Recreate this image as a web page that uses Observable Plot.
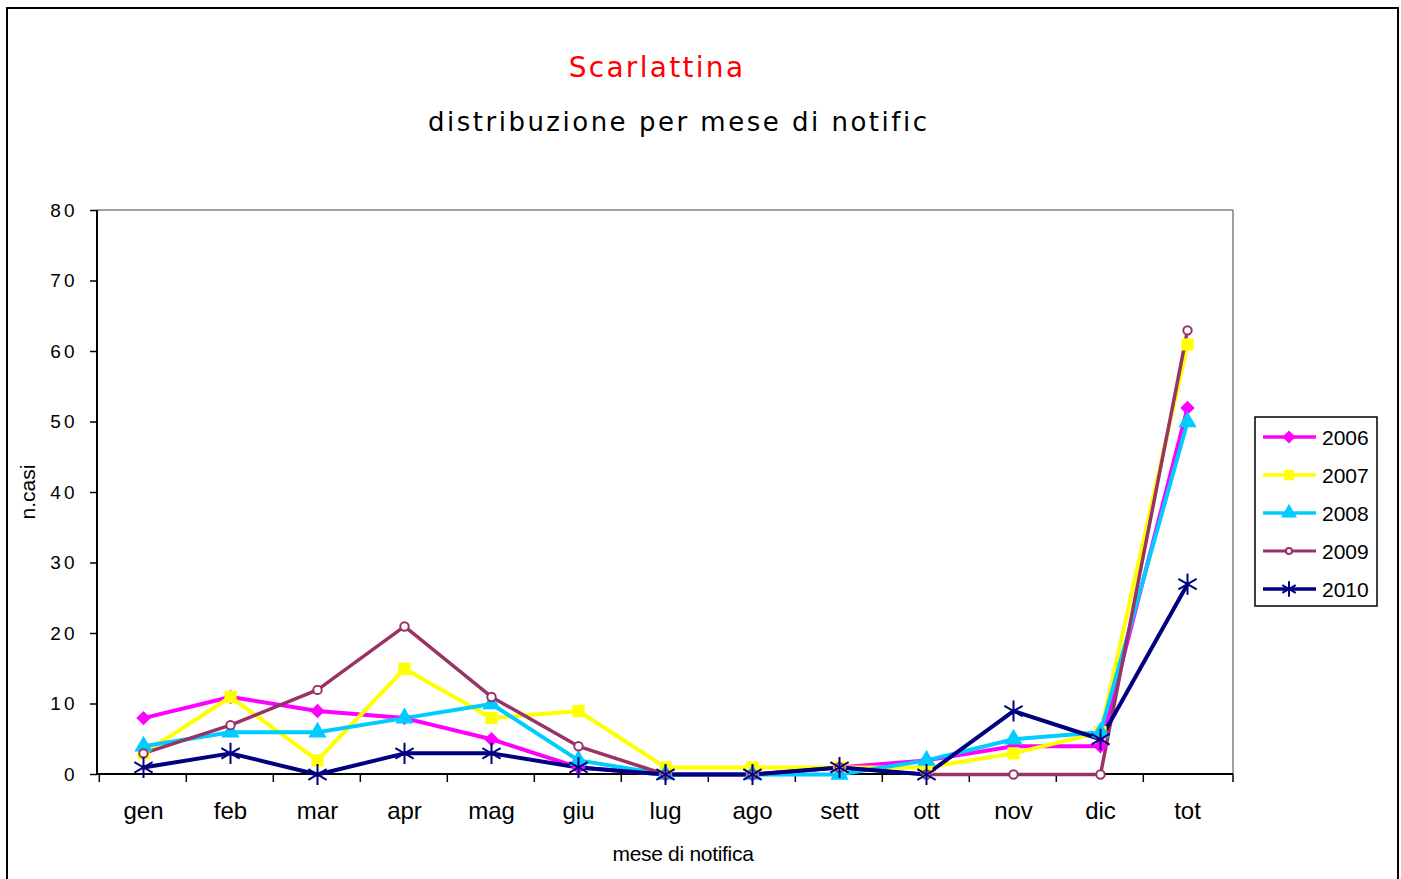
<!DOCTYPE html>
<html>
<head>
<meta charset="utf-8">
<script src="https://cdn.jsdelivr.net/npm/d3@7"></script>
<script src="https://cdn.jsdelivr.net/npm/@observablehq/plot@0.6"></script>
<style>
  html, body { margin: 0; padding: 0; background: #fff; }
  #chart svg { display: block; }
</style>
</head>
<body>
<div id="chart"></div>
<script>
const categories = ["gen","feb","mar","apr","mag","giu","lug","ago","sett","ott","nov","dic","tot"];
const years = ["2006","2007","2008","2009","2010"];
const v2006 = [8,11,9,8,5,1,0,0,1,2,4,4,52];
const v2007 = [3,11,2,15,8,9,1,1,1,1,3,6,61];
const v2008 = [4,6,6,8,10,2,0,0,0,2,5,6,50];
const v2009 = [3,7,12,21,11,4,0,0,1,0,0,0,63];
const v2010 = [1,3,0,3,3,1,0,0,1,0,9,5,27];
const yTicks = [0,10,20,30,40,50,60,70,80];
const titleText = "Scarlattina";
const subtitleText = "distribuzione per mese di notific";
const xLabel = "mese di notifica";
const yLabel = "n.casi";

const seriesValues = [v2006, v2007, v2008, v2009, v2010];
const colors = ["#FF00FF", "#FFFF00", "#00CCFF", "#993366", "#000080"];
const symbols = ["diamond2", "square", "triangle", "circle", "asterisk"];

const series = years.map((y, i) => ({year: y, values: seriesValues[i], color: colors[i], symbol: symbols[i]}));
const rows = series.flatMap(s => categories.map((c, j) => ({cat: c, v: s.values[j], year: s.year})));

function dotOpts(s) {
  const base = {x: "cat", y: "v", symbol: () => s.symbol};
  switch (s.symbol) {
    case "diamond2": return {...base, fill: s.color, stroke: "none", r: 6.5};
    case "square": return {...base, fill: s.color, stroke: "none", r: 6.9};
    case "triangle": return {...base, fill: s.color, stroke: "none", r: 6.8};
    case "circle": return {...base, fill: "white", stroke: s.color, strokeWidth: 2, r: 4.2};
    case "asterisk": return {...base, fill: "none", stroke: s.color, strokeWidth: 2, r: 10};
  }
}

const marks = [
  Plot.axisY({ticks: yTicks, tickSize: 7, tickPadding: 13, fontSize: 19, label: null, stroke: "black", strokeWidth: 1.5}),
  Plot.axisX({tickSize: 0, tickPadding: 27, fontSize: 24, label: null})
];
series.forEach(s => {
  const data = rows.filter(r => r.year === s.year);
  marks.push(Plot.line(data, {x: "cat", y: "v", stroke: s.color, strokeWidth: s.year === "2009" ? 3.5 : 4}));
});
series.forEach(s => {
  const data = rows.filter(r => r.year === s.year);
  marks.push(Plot.dot(data, dotOpts(s)));
});

const chart = Plot.plot({
  width: 1401,
  height: 879,
  marginLeft: 97,
  marginRight: 168,
  marginTop: 210,
  marginBottom: 105,
  style: {background: "white", fontFamily: "'Liberation Sans', Arial, sans-serif", color: "black"},
  x: {type: "point", domain: categories, padding: 0.5, align: 0.5},
  y: {domain: [0, 80]},
  symbol: {type: "identity"},
  marks
});

const svg = d3.select(chart);
const xs = chart.scale("x");
const ys = chart.scale("y");
const X = v => xs.apply(v);
const Y = v => ys.apply(v);
const x0 = 97, x1 = 1233, yTop = 210, yBot = Y(0);
const step = (x1 - x0) / categories.length;

svg.selectAll("[aria-label='y-axis tick label'] text").attr("letter-spacing", "3px");

const axisG = svg.insert("g", "g[aria-label='line']");
// plot frame: grey top & right, black left & bottom
axisG.append("line").attr("x1", x0).attr("x2", x1).attr("y1", yTop).attr("y2", yTop).attr("stroke", "#808080").attr("stroke-width", 1.5);
axisG.append("line").attr("x1", x1).attr("x2", x1).attr("y1", yTop).attr("y2", yBot).attr("stroke", "#808080").attr("stroke-width", 1.5);
axisG.append("line").attr("x1", x0).attr("x2", x1).attr("y1", yBot).attr("y2", yBot).attr("stroke", "black").attr("stroke-width", 2);
axisG.append("line").attr("x1", x0).attr("x2", x0).attr("y1", yTop).attr("y2", yBot).attr("stroke", "black").attr("stroke-width", 2);
categories.forEach(c => {
  const bx = X(c) - step / 2;
  axisG.append("line").attr("x1", bx).attr("x2", bx).attr("y1", yBot).attr("y2", yBot + 8).attr("stroke", "black").attr("stroke-width", 1.5);
});
axisG.append("line").attr("x1", x1).attr("x2", x1).attr("y1", yBot).attr("y2", yBot + 8).attr("stroke", "black").attr("stroke-width", 1.5);

// outer chart border
svg.append("rect").attr("x", 7).attr("y", 8).attr("width", 1391).attr("height", 880)
  .attr("fill", "none").attr("stroke", "black").attr("stroke-width", 2);

// titles
svg.append("text").attr("x", 657).attr("y", 77).attr("text-anchor", "middle")
  .attr("font-family", "'Comic Sans MS', 'DejaVu Sans', sans-serif").attr("font-size", 28)
  .attr("letter-spacing", "2.3px").attr("fill", "red").text(titleText);
svg.append("text").attr("x", 428).attr("y", 131).attr("text-anchor", "start")
  .attr("font-family", "'Comic Sans MS', 'DejaVu Sans', sans-serif").attr("font-size", 26)
  .attr("letter-spacing", "2.5px").attr("fill", "black").text(subtitleText);

// axis labels
svg.append("text").attr("x", 683).attr("y", 861).attr("text-anchor", "middle")
  .attr("font-size", 21).attr("fill", "black").attr("letter-spacing", "-0.3px").text(xLabel);
svg.append("text").attr("transform", "translate(35,492) rotate(-90)").attr("text-anchor", "middle")
  .attr("font-size", 21).attr("fill", "black").text(yLabel);

// legend
const lg = svg.append("g");
lg.append("rect").attr("x", 1255).attr("y", 417).attr("width", 122).attr("height", 189)
  .attr("fill", "white").attr("stroke", "black").attr("stroke-width", 1.5);
series.forEach((s, i) => {
  const cy = 437 + i * 38;
  lg.append("line").attr("x1", 1263).attr("x2", 1316).attr("y1", cy).attr("y2", cy)
    .attr("stroke", s.color).attr("stroke-width", s.year === "2009" ? 3 : 3.5);
  const symType = {diamond2: d3.symbolDiamond2, square: d3.symbolSquare, triangle: d3.symbolTriangle, circle: d3.symbolCircle, asterisk: d3.symbolAsterisk}[s.symbol];
  const size = {diamond2: 110, square: 110, triangle: 110, circle: 30, asterisk: 170}[s.symbol];
  const p = lg.append("path").attr("transform", `translate(1289,${cy})`).attr("d", d3.symbol(symType, size)());
  if (s.symbol === "circle") p.attr("fill", "white").attr("stroke", s.color).attr("stroke-width", 2);
  else if (s.symbol === "asterisk") p.attr("fill", "none").attr("stroke", s.color).attr("stroke-width", 2);
  else p.attr("fill", s.color);
  lg.append("text").attr("x", 1322).attr("y", cy).attr("dy", "0.36em").attr("font-size", 21)
    .attr("text-anchor", "start").attr("fill", "black").text(s.year);
});

document.getElementById("chart").appendChild(chart);
</script>
</body>
</html>
